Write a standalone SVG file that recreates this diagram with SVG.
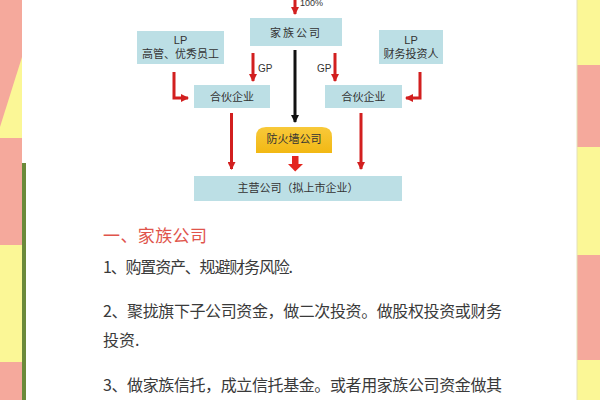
<svg xmlns="http://www.w3.org/2000/svg" width="600" height="400" viewBox="0 0 600 400">
<defs>
<marker id="ar" markerUnits="userSpaceOnUse" markerWidth="8" markerHeight="8" refX="7" refY="4" orient="auto"><path d="M0,0 L8,4 L0,8 z" fill="#d21f1f"/></marker>
<marker id="ak" markerUnits="userSpaceOnUse" markerWidth="8" markerHeight="8" refX="7" refY="4" orient="auto"><path d="M0,0 L8,4 L0,8 z" fill="#111"/></marker>
<linearGradient id="gold" x1="0" y1="0" x2="0" y2="1"><stop offset="0" stop-color="#f8c93a"/><stop offset="1" stop-color="#f2b814"/></linearGradient>
</defs>
<style>
.box{fill:#bcdfe5}
.t{font-family:"Liberation Sans","Noto Sans CJK SC",sans-serif;font-size:11px;fill:#333;text-anchor:middle}
.red{stroke:#d21f1f;stroke-width:3;fill:none}
.lbl{font-family:"Liberation Sans",sans-serif;font-size:10px;fill:#333}
.body{font-family:"Noto Sans CJK SC",sans-serif;font-size:16px;fill:#3a3a3a}
</style>
<!-- background -->
<rect x="0" y="0" width="600" height="400" fill="#ffffff"/>
<rect x="0" y="0" width="22" height="400" fill="#f5a99c"/>
<polygon points="22,57 22,138 0,138 0,127" fill="#fbf796"/>
<rect x="0" y="245" width="22" height="117" fill="#fbf796"/>
<rect x="22" y="163" width="4" height="237" fill="#6b8a3a"/>
<rect x="577" y="0" width="23" height="65" fill="#fbf796"/>
<rect x="577" y="65" width="23" height="82" fill="#f5a99c"/>
<rect x="577" y="147" width="23" height="108" fill="#fbf796"/>
<rect x="577" y="255" width="23" height="105" fill="#f5a99c"/>
<rect x="577" y="360" width="23" height="40" fill="#fbf796"/>
<line x1="577" y1="0" x2="577" y2="400" stroke="#e4e0b8" stroke-width="1"/>

<g id="connectors">
<line x1="295" y1="0" x2="295" y2="14" class="red" stroke-width="2" marker-end="url(#ar)"/>
<text x="300" y="6" font-family="Liberation Sans,sans-serif" font-size="9" fill="#333">100%</text>
<line x1="253" y1="53" x2="253" y2="81" class="red" marker-end="url(#ar)"/>
<text class="lbl" x="258" y="72">GP</text>
<line x1="335" y1="53" x2="335" y2="81" class="red" marker-end="url(#ar)"/>
<text class="lbl" x="317" y="72">GP</text>
<line x1="295" y1="50" x2="295" y2="122" stroke="#111" stroke-width="3" marker-end="url(#ak)"/>
<path d="M174,72 V98 H188" class="red" stroke-width="3.5" marker-end="url(#ar)"/>
<path d="M420,72 V98 H406" class="red" stroke-width="3.5" marker-end="url(#ar)"/>
<line x1="231.5" y1="113" x2="231.5" y2="169" class="red" marker-end="url(#ar)"/>
<line x1="361" y1="113" x2="361" y2="169" class="red" marker-end="url(#ar)"/>
<polygon points="292,156 298.5,156 298.5,164 303,164 295.2,171.5 288,164 292,164" fill="#e3261f"/>
</g>

<g id="family">
<rect class="box" x="250" y="18" width="92" height="28"/>
<text class="t" x="296" y="36.5" font-size="12" letter-spacing="2">家族公司</text>
</g>
<g id="lp-left">
<rect class="box" x="137" y="31" width="87" height="33"/>
<text class="t" x="180.5" y="44">LP</text>
<text class="t" x="180.5" y="58">高管、优秀员工</text>
</g>
<g id="lp-right">
<rect class="box" x="379" y="30" width="64" height="34"/>
<text class="t" x="411" y="44">LP</text>
<text class="t" x="411" y="58">财务投资人</text>
</g>
<g id="partner-left">
<rect class="box" x="194" y="85" width="76" height="23"/>
<text class="t" x="232" y="100.5">合伙企业</text>
</g>
<g id="partner-right">
<rect class="box" x="325" y="85" width="77" height="23"/>
<text class="t" x="363.5" y="100.5">合伙企业</text>
</g>
<g id="firewall">
<path d="M256,153 V137 Q256,127 266,127 H322 Q332,127 332,137 V153 Z" fill="url(#gold)"/>
<text class="t" x="294" y="143" fill="#4a3510">防火墙公司</text>
</g>
<g id="main">
<rect class="box" x="194" y="176" width="208" height="25"/>
<text class="t" x="298" y="192">主营公司（拟上市企业）</text>
</g>

<g id="text">
<text x="103" y="242" font-family="Noto Sans CJK SC,sans-serif" font-size="17" fill="#e0544b" textLength="104" lengthAdjust="spacing">一、家族公司</text>
<text class="body" x="103" y="273" textLength="190" lengthAdjust="spacing">1、购置资产、规避财务风险.</text>
<text class="body" x="103" y="317" textLength="399" lengthAdjust="spacing">2、聚拢旗下子公司资金，做二次投资。做股权投资或财务</text>
<text class="body" x="103" y="346">投资.</text>
<text class="body" x="103" y="391" textLength="399" lengthAdjust="spacing">3、做家族信托，成立信托基金。或者用家族公司资金做其</text>
</g>
</svg>
